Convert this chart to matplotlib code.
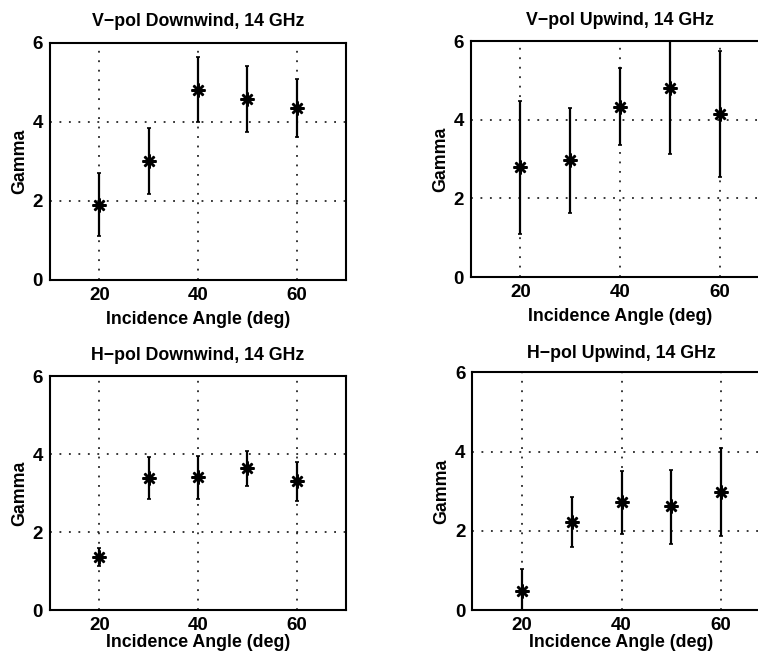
import numpy as np
import matplotlib
matplotlib.use('Agg')
import matplotlib.pyplot as plt

plt.rcParams['font.family'] = ['Liberation Sans', 'DejaVu Sans']
plt.rcParams['font.weight'] = 'bold'

#########################################
################# Data ##################
#########################################
angles = [20, 30, 40, 50, 60]
titles = ['V\u2212pol Downwind, 14 GHz', 'V\u2212pol Upwind, 14 GHz',
          'H\u2212pol Downwind, 14 GHz', 'H\u2212pol Upwind, 14 GHz']

# gamma values, lower and upper ends of the error bars
vd_gamma = [1.90, 3.01, 4.80, 4.57, 4.34]
vd_low = [1.10, 2.17, 3.98, 3.73, 3.62]
vd_high = [2.70, 3.83, 5.63, 5.42, 5.08]

vu_gamma = [2.80, 2.97, 4.33, 4.82, 4.16]
vu_low = [1.10, 1.63, 3.35, 3.14, 2.55]
vu_high = [4.47, 4.29, 5.32, 6.50, 5.76]

hd_gamma = [1.36, 3.38, 3.41, 3.64, 3.32]
hd_low = [1.13, 2.86, 2.86, 3.19, 2.80]
hd_high = [1.59, 3.92, 3.96, 4.09, 3.81]

hu_gamma = [0.49, 2.23, 2.72, 2.63, 2.97]
hu_low = [-0.05, 1.58, 1.92, 1.66, 1.87]
hu_high = [1.04, 2.85, 3.51, 3.54, 4.09]

series = [(vd_gamma, vd_low, vd_high), (vu_gamma, vu_low, vu_high),
          (hd_gamma, hd_low, hd_high), (hu_gamma, hu_low, hu_high)]

#########################################
################ Layout #################
#########################################
# axes boxes in figure fraction [left, bottom, width, height]
boxes = [[0.066, 0.580, 0.3905, 0.356],
         [0.621, 0.584, 0.394, 0.354],
         [0.066, 0.084, 0.3905, 0.351],
         [0.623, 0.084, 0.394, 0.357]]
title_pads = [12, 12, 12, 10]
xlabel_pads = [5, 5, 0, 0]

fig = plt.figure(figsize=(7.58, 6.66), dpi=100)

for box, title, (g, lo, hi), tp, xp in zip(boxes, titles, series, title_pads, xlabel_pads):
	ax = fig.add_axes(box)
	g = np.array(g)
	yerr = [g - np.array(lo), np.array(hi) - g]
	ax.errorbar(angles, g, yerr=yerr, fmt='none', ecolor='black',
	            elinewidth=1.6, capsize=1.5, capthick=1.2, zorder=3)
	ax.plot(angles, g, linestyle='none', marker=(8, 2, 0), markersize=10,
	        markeredgewidth=1.8, color='black', zorder=4)
	ax.set_xlim(10, 70)
	ax.set_ylim(0, 6)
	ax.set_xticks([20, 40, 60])
	ax.set_yticks([0, 2, 4, 6])
	ax.grid(True, linestyle=(0, (1.2, 5)), color='black', linewidth=1.1)
	ax.tick_params(direction='in', length=0, labelsize=13.5, pad=5)
	for s in ax.spines.values():
		s.set_linewidth(1.5)
	ax.set_title(title, fontsize=12.8, fontweight='bold', pad=tp)
	ax.set_xlabel('Incidence Angle (deg)', fontsize=12.8, fontweight='bold', labelpad=xp)
	ax.set_ylabel('Gamma', fontsize=12.8, fontweight='bold', labelpad=3)

fig.savefig('out.png', dpi=100)
